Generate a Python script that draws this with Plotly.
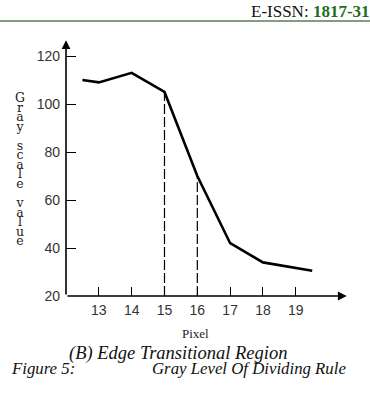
import plotly.graph_objects as go

# ---- data ----
pixel = [12.5, 13, 14, 15, 16, 17, 18, 19, 19.5]
gray = [110, 109, 113, 105, 70, 42, 34, 31.5, 30.5]
dividing_pixels = [15, 16]
x_ticks = [13, 14, 15, 16, 17, 18, 19]
y_ticks = [20, 40, 60, 80, 100, 120]
y_title = "Gray scale value"
x_title = "Pixel"

W, H = 370, 402
L, R, T, B = 66, 25, 39, 106
PW, PH = W - L - R, H - T - B
X0, Y0 = 12, 20
XU, YU = 32.83, 2.4
xr = [X0, X0 + PW / XU]
yr = [Y0, Y0 + PH / YU]

def px_to_paper_x(px):
    return (px - L) / PW

def py_to_paper_y(py):
    return (H - B - py) / PH

fig = go.Figure()

# dashed dividing lines
for xv in dividing_pixels:
    gv = gray[pixel.index(xv)]
    fig.add_trace(go.Scatter(x=[xv, xv], y=[Y0, gv], mode="lines",
                             line=dict(color="black", width=1.2, dash="10px,3px"),
                             hoverinfo="skip", showlegend=False))

fig.add_trace(go.Scatter(x=pixel, y=gray, mode="lines",
                         line=dict(color="black", width=2.6),
                         showlegend=False))

annotations = []
# axis lines with arrows
annotations.append(dict(x=20.55, y=Y0, ax=X0, ay=Y0, xref="x", yref="y", axref="x", ayref="y",
                        showarrow=True, arrowhead=2, arrowsize=1.1, arrowwidth=1.6,
                        arrowcolor="black", text=""))
annotations.append(dict(x=X0, y=126.6, ax=X0, ay=Y0, xref="x", yref="y", axref="x", ayref="y",
                        showarrow=True, arrowhead=2, arrowsize=1.1, arrowwidth=1.6,
                        arrowcolor="black", text=""))

# stacked vertical y title: one letter per line, blank line between words
lines = []
for word in y_title.split(" "):
    lines.extend(list(word))
    lines.append("")
lines = lines[:-1]
stacked = "<br>".join(
    f"<span style='font-size:12.5px'>{c}</span>" if c else " " for c in lines)
annotations.append(dict(x=px_to_paper_x(20), y=py_to_paper_y(169), xref="paper", yref="paper",
                        text=stacked, showarrow=False, xanchor="center", yanchor="middle",
                        borderpad=0, align="center",
                        font=dict(family="DejaVu Serif", size=7.35, color="#222")))

# x title
annotations.append(dict(x=px_to_paper_x(195), y=py_to_paper_y(333), xref="paper", yref="paper",
                        text=x_title, showarrow=False, xanchor="center", yanchor="middle",
                        font=dict(family="Liberation Serif", size=13, color="#222")))

# header
annotations.append(dict(x=px_to_paper_x(371), y=py_to_paper_y(12), xref="paper", yref="paper",
                        text="E-ISSN: <b><span style='color:#1e6e1e'>1817-31</span></b>",
                        showarrow=False, xanchor="right", yanchor="middle", borderpad=0,
                        font=dict(family="Liberation Serif", size=17, color="#111")))

# captions
cap_font1 = dict(family="Liberation Serif", size=18.5, color="#111", style="italic")
cap_font2 = dict(family="Liberation Serif", size=16.8, color="#111", style="italic")
annotations.append(dict(x=px_to_paper_x(178), y=py_to_paper_y(353), xref="paper", yref="paper",
                        text="(B) Edge Transitional Region", showarrow=False,
                        xanchor="center", yanchor="middle", font=cap_font1))
annotations.append(dict(x=px_to_paper_x(10), y=py_to_paper_y(369), xref="paper", yref="paper",
                        text="Figure 5:", showarrow=False, borderpad=0,
                        xanchor="left", yanchor="middle", font=cap_font2))
annotations.append(dict(x=px_to_paper_x(151), y=py_to_paper_y(369), xref="paper", yref="paper",
                        text="Gray Level Of Dividing Rule", showarrow=False, borderpad=0,
                        xanchor="left", yanchor="middle", font=cap_font2))

shapes = [dict(type="line", xref="paper", yref="paper",
               x0=px_to_paper_x(0), x1=px_to_paper_x(370),
               y0=py_to_paper_y(21), y1=py_to_paper_y(21),
               line=dict(color="#5b7d55", width=1.5))]

tick_font = dict(family="Liberation Sans", size=14, color="#333")
fig.update_layout(
    width=W, height=H,
    margin=dict(l=L, r=R, t=T, b=B),
    paper_bgcolor="white", plot_bgcolor="white",
    annotations=annotations, shapes=shapes,
    xaxis=dict(range=xr, tickvals=x_ticks, ticks="inside", ticklen=9, tickwidth=1.2,
               tickcolor="black", showgrid=False, zeroline=False, showline=False,
               tickfont=tick_font, ticklabelstandoff=4),
    yaxis=dict(range=yr, tickvals=y_ticks, ticks="inside", ticklen=10, tickwidth=1.2,
               tickcolor="black", showgrid=False, zeroline=False, showline=False,
               tickfont=tick_font, ticklabelstandoff=5),
)

fig.write_html("out.html")
